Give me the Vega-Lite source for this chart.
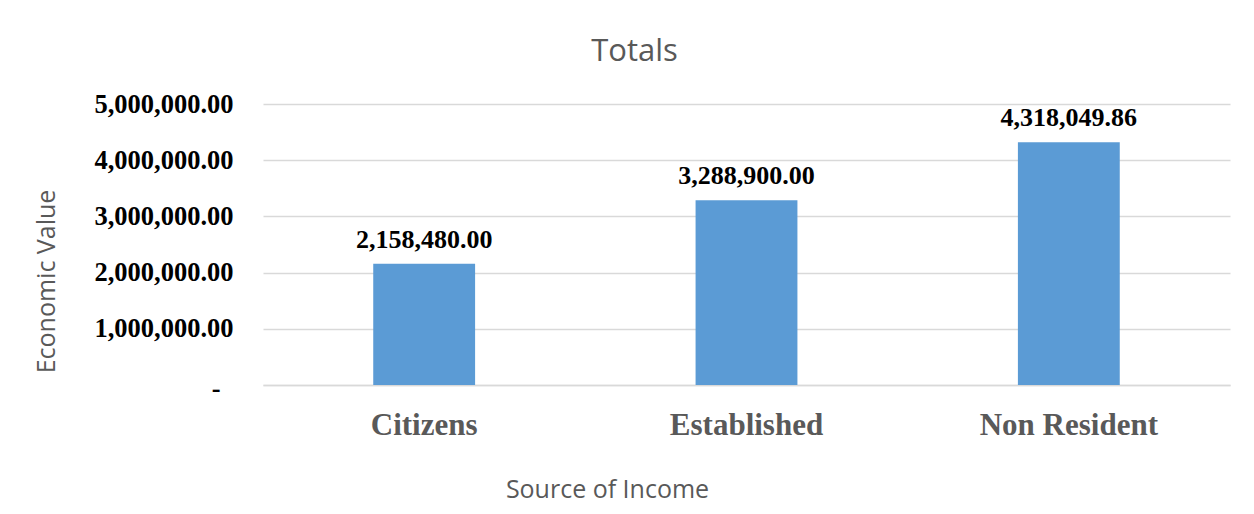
{
  "$schema": "https://vega.github.io/schema/vega-lite/v6.json",
  "autosize": {"type": "none"},
  "padding": {"left": 263, "top": 104, "right": 24, "bottom": 129},
  "width": 967,
  "height": 281,
  "background": "white",
  "title": {
    "text": "Totals",
    "font": "Open Sans",
    "fontSize": 31,
    "fontWeight": "normal",
    "color": "#595959",
    "anchor": "middle",
    "frame": "group",
    "dx": -112,
    "offset": 23
  },
  "data": {
    "values": [
      {"source": "Citizens", "value": 2158480.00},
      {"source": "Established", "value": 3288900.00},
      {"source": "Non Resident", "value": 4318049.86}
    ]
  },
  "encoding": {
    "x": {
      "field": "source",
      "type": "nominal",
      "sort": null,
      "scale": {"paddingInner": 0.684, "paddingOuter": 0.342},
      "axis": {
        "title": "Source of Income",
        "titleFont": "Open Sans",
        "titleFontSize": 25,
        "titleFontWeight": "normal",
        "titleColor": "#595959",
        "titleX": 344,
        "titleAlign": "center",
        "titlePadding": 37,
        "labelFont": "Liberation Serif",
        "labelFontSize": 31,
        "labelFontWeight": "bold",
        "labelColor": "#595959",
        "labelAngle": 0,
        "labelPadding": 25,
        "ticks": false,
        "domainColor": "#d9d9d9",
        "domainWidth": 1.3,
        "grid": false
      }
    },
    "y": {
      "field": "value",
      "type": "quantitative",
      "scale": {"domain": [0, 5000000]},
      "axis": {
        "title": "Economic Value",
        "titleFont": "Open Sans",
        "titleFontSize": 25,
        "titleFontWeight": "normal",
        "titleColor": "#595959",
        "titlePadding": 34,
        "titleY": 177,
        "values": [0, 1000000, 2000000, 3000000, 4000000, 5000000],
        "labelExpr": "datum.value == 0 ? '-' : format(datum.value, ',.2f')",
        "labelFont": "Liberation Serif",
        "labelFontSize": 26.5,
        "labelFontWeight": "bold",
        "labelColor": "#000000",
        "labelPadding": {"condition": {"test": "datum.value == 0", "value": 43}, "value": 30},
        "labelOffset": {"condition": {"test": "datum.value == 0", "value": 3}, "value": 0},
        "ticks": false,
        "domain": false,
        "gridColor": "#d9d9d9",
        "gridWidth": 1.3
      }
    }
  },
  "layer": [
    {"mark": {"type": "bar", "color": "#5b9bd5"}},
    {
      "mark": {
        "type": "text",
        "font": "Liberation Serif",
        "fontSize": 26,
        "fontWeight": "bold",
        "color": "#000000",
        "baseline": "alphabetic",
        "dy": -16
      },
      "encoding": {
        "text": {"field": "value", "type": "quantitative", "format": ",.2f"}
      }
    }
  ],
  "config": {"view": {"stroke": null}}
}
